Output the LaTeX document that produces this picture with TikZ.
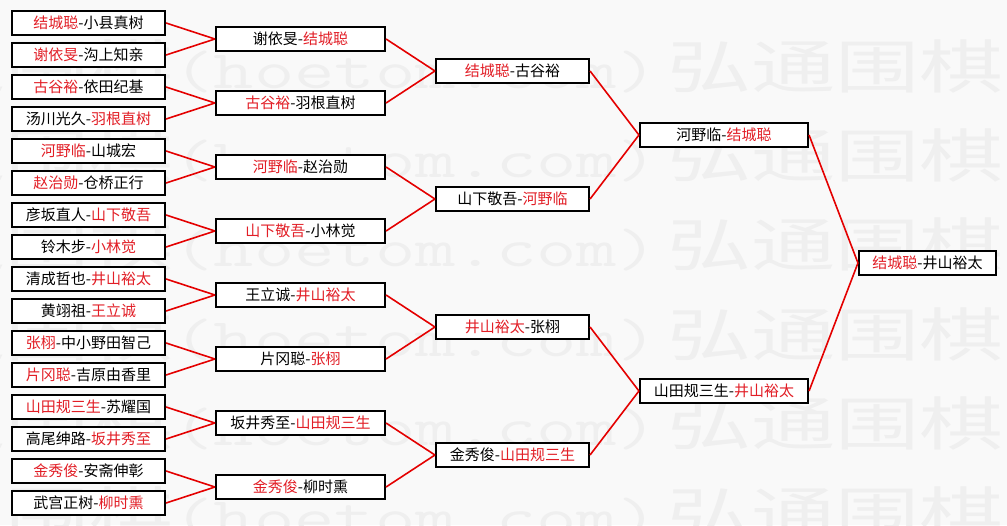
\documentclass[tikz,border=0pt]{standalone}
\usepackage{fontspec}
\newfontfamily\cjk{Noto Sans CJK SC}
\usepackage{tikz}
\definecolor{winred}{RGB}{226,30,38}
\definecolor{linkred}{RGB}{228,0,0}
\definecolor{markgray}{RGB}{239,239,239}
\definecolor{paper}{RGB}{249,249,249}
\newcommand{\wn}[1]{\textcolor{winred}{#1}}

\begin{document}
\begin{tikzpicture}[x=1pt, y=-1pt,
	game/.style={draw=black, line width=1.6pt, fill=white, inner sep=0pt, minimum height=24.5pt, font=\cjk\fontsize{15}{18}\selectfont},
	first/.style={game, minimum width=153.5pt},
	second/.style={game, minimum width=169.5pt},
	third/.style={game, minimum width=153.5pt},
	semi/.style={game, minimum width=168.5pt},
	final/.style={game, minimum width=137.5pt},
	link/.style={draw=linkred, line width=1.6pt},
	sitemark/.style={text=markgray, inner sep=0pt, anchor=west}
	]
	\useasboundingbox (0,0) rectangle (1007,525);
	\fill[paper] (0,0) rectangle (1007,525);
	% faint site mark behind the bracket
	\begin{scope}
		\clip (0,0) rectangle (1007,525);
		\foreach \r in {1,...,6}
			\foreach \c in {0,1}
				\node[sitemark] (wm\r\c) at (-163+830*\c, -23.4+89.4*\r) {\scalebox{1.45}[1]{\cjk\fontsize{58}{60}\selectfont 弘通围棋\ttfamily\fontsize{54}{60}\selectfont (hoetom.com)}};
	\end{scope}

	% first round
	\node[first] (a1)  at (88.5,23)  {\wn{结城聪}-小县真树};
	\node[first] (a2)  at (88.5,55)  {\wn{谢依旻}-沟上知亲};
	\node[first] (a3)  at (88.5,87)  {\wn{古谷裕}-依田纪基};
	\node[first] (a4)  at (88.5,119) {汤川光久-\wn{羽根直树}};
	\node[first] (a5)  at (88.5,151) {\wn{河野临}-山城宏};
	\node[first] (a6)  at (88.5,183) {\wn{赵治勋}-仓桥正行};
	\node[first] (a7)  at (88.5,215) {彦坂直人-\wn{山下敬吾}};
	\node[first] (a8)  at (88.5,247) {铃木步-\wn{小林觉}};
	\node[first] (a9)  at (88.5,279) {清成哲也-\wn{井山裕太}};
	\node[first] (a10) at (88.5,311) {黄翊祖-\wn{王立诚}};
	\node[first] (a11) at (88.5,343) {\wn{张栩}-中小野田智己};
	\node[first] (a12) at (88.5,375) {\wn{片冈聪}-吉原由香里};
	\node[first] (a13) at (88.5,407) {\wn{山田规三生}-苏耀国};
	\node[first] (a14) at (88.5,439) {高尾绅路-\wn{坂井秀至}};
	\node[first] (a15) at (88.5,471) {\wn{金秀俊}-安斋伸彰};
	\node[first] (a16) at (88.5,503) {武宫正树-\wn{柳时熏}};

	% second round
	\node[second] (b1) at (300.5,39)  {谢依旻-\wn{结城聪}};
	\node[second] (b2) at (300.5,103) {\wn{古谷裕}-羽根直树};
	\node[second] (b3) at (300.5,167) {\wn{河野临}-赵治勋};
	\node[second] (b4) at (300.5,231) {\wn{山下敬吾}-小林觉};
	\node[second] (b5) at (300.5,295) {王立诚-\wn{井山裕太}};
	\node[second] (b6) at (300.5,359) {片冈聪-\wn{张栩}};
	\node[second] (b7) at (300.5,423) {坂井秀至-\wn{山田规三生}};
	\node[second] (b8) at (300.5,487) {\wn{金秀俊}-柳时熏};

	% quarter finals
	\node[third] (c1) at (512.5,71)  {\wn{结城聪}-古谷裕};
	\node[third] (c2) at (512.5,199) {山下敬吾-\wn{河野临}};
	\node[third] (c3) at (512.5,327) {\wn{井山裕太}-张栩};
	\node[third] (c4) at (512.5,455) {金秀俊-\wn{山田规三生}};

	% semi finals and final
	\node[semi] (d1) at (724,135) {河野临-\wn{结城聪}};
	\node[semi] (d2) at (724,391) {山田规三生-\wn{井山裕太}};
	\node[final] (f) at (927.5,263) {\wn{结城聪}-井山裕太};

	\draw[link] (a1.east) -- (b1.west);
	\draw[link] (a2.east) -- (b1.west);
	\draw[link] (a3.east) -- (b2.west);
	\draw[link] (a4.east) -- (b2.west);
	\draw[link] (a5.east) -- (b3.west);
	\draw[link] (a6.east) -- (b3.west);
	\draw[link] (a7.east) -- (b4.west);
	\draw[link] (a8.east) -- (b4.west);
	\draw[link] (a9.east) -- (b5.west);
	\draw[link] (a10.east) -- (b5.west);
	\draw[link] (a11.east) -- (b6.west);
	\draw[link] (a12.east) -- (b6.west);
	\draw[link] (a13.east) -- (b7.west);
	\draw[link] (a14.east) -- (b7.west);
	\draw[link] (a15.east) -- (b8.west);
	\draw[link] (a16.east) -- (b8.west);
	\draw[link] (b1.east) -- (c1.west);
	\draw[link] (b2.east) -- (c1.west);
	\draw[link] (b3.east) -- (c2.west);
	\draw[link] (b4.east) -- (c2.west);
	\draw[link] (b5.east) -- (c3.west);
	\draw[link] (b6.east) -- (c3.west);
	\draw[link] (b7.east) -- (c4.west);
	\draw[link] (b8.east) -- (c4.west);
	\draw[link] (c1.east) -- (d1.west);
	\draw[link] (c2.east) -- (d1.west);
	\draw[link] (c3.east) -- (d2.west);
	\draw[link] (c4.east) -- (d2.west);
	\draw[link] (d1.east) -- (f.west);
	\draw[link] (d2.east) -- (f.west);
\end{tikzpicture}
\end{document}
